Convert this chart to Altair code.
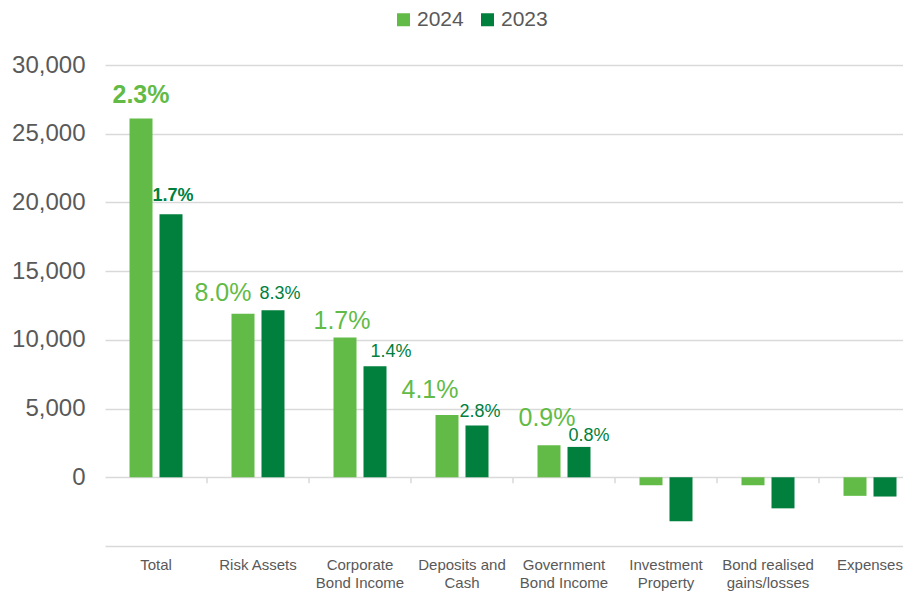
import altair as alt
import pandas as pd

categories = ["Total", "Risk Assets", "Corporate\nBond Income", "Deposits and\nCash",
              "Government\nBond Income", "Investment\nProperty", "Bond realised\ngains/losses", "Expenses"]
series = ["2024", "2023"]
values_2024 = [26100, 11900, 10170, 4530, 2330, -580, -580, -1350]
values_2023 = [19140, 12150, 8080, 3760, 2210, -3200, -2260, -1400]
labels_2024 = ["2.3%", "8.0%", "1.7%", "4.1%", "0.9%", "", "", ""]
labels_2023 = ["1.7%", "8.3%", "1.4%", "2.8%", "0.8%", "", "", ""]
y_ticks = [-5000, 0, 5000, 10000, 15000, 20000, 25000, 30000]

LIGHT = "#62BB46"
DARK = "#007F3D"
GREY = "#595959"
GRID = "#d9d9d9"
FONT = "Liberation Sans"

# label styling: (dx, dy, size, weight) per category, per series
style_2024 = {0: (0, -16, 25, "bold"), 1: (-20, -13, 25, "normal"), 2: (-3, -9, 25, "normal"),
              3: (-17, -17, 25, "normal"), 4: (-2, -19, 25, "normal")}
style_2023 = {0: (2, -13, 18, "bold"), 1: (7, -11, 18, "normal"), 2: (16, -9, 18, "normal"),
              3: (3, -9, 18, "normal"), 4: (10, -6, 18, "normal")}

rows = []
for c, v, l in zip(categories, values_2024, labels_2024):
    rows.append({"category": c, "series": "2024", "value": v, "label": l})
for c, v, l in zip(categories, values_2023, labels_2023):
    rows.append({"category": c, "series": "2023", "value": v, "label": l})
df = pd.DataFrame(rows)
df_ticks = pd.DataFrame({"category": categories[1:]})

x_enc = alt.X(
    "category:N", sort=categories,
    scale=alt.Scale(range=[0, 816], paddingInner=0, paddingOuter=0),
    axis=alt.Axis(title=None, labelAngle=0, domain=False, ticks=False, grid=False,
                  labelExpr="split(datum.label, '\\n')", labelFontSize=15, labelColor=GREY,
                  labelFont=FONT, labelPadding=11, labelLineHeight=18, labelOverlap=False),
)
xoff_enc = alt.XOffset("series:N", sort=series,
                       scale=alt.Scale(domain=series, paddingInner=0.2333, paddingOuter=0.8167))
y_enc = alt.Y(
    "value:Q",
    scale=alt.Scale(domain=[-5000, 30000], nice=False, zero=False),
    axis=alt.Axis(title=None, values=y_ticks, domain=False, ticks=False, gridColor=GRID,
                  gridWidth=1.5, labelFontSize=24, labelColor=GREY, labelFont=FONT, labelPadding=20,
                  labelExpr="datum.value < 0 ? '' : format(datum.value, ',')"),
)

bars = alt.Chart(df).mark_bar().encode(
    x=x_enc,
    xOffset=xoff_enc,
    y=y_enc,
    color=alt.Color(
        "series:N", sort=series,
        scale=alt.Scale(domain=series, range=[LIGHT, DARK]),
        legend=alt.Legend(title=None, orient="none", legendX=288, legendY=-56,
                          direction="horizontal", symbolType="square", symbolSize=169,
                          symbolStrokeWidth=0, labelFontSize=21, labelColor=GREY, labelFont=FONT,
                          columnPadding=13, labelOffset=3),
    ),
)

zero_ticks = alt.Chart(df_ticks).mark_rule(color=GRID, strokeWidth=1.5, y2Offset=6).encode(
    x=alt.X("category:N", sort=categories, bandPosition=0),
    y=alt.datum(0),
    y2=alt.datum(0),
)

layers = [bars, zero_ticks]
for ser, styles, color in (("2024", style_2024, LIGHT), ("2023", style_2023, DARK)):
    for idx, (dx, dy, size, weight) in styles.items():
        cat = categories[idx].replace("\n", "\\n")
        layers.append(
            alt.Chart(df).transform_filter(
                f"datum.series == '{ser}' && datum.category == '{cat}'"
            ).mark_text(
                color=color, fontSize=size, fontWeight=weight, font=FONT, dx=dx, dy=dy,
                baseline="alphabetic", align="center",
            ).encode(x=alt.X("category:N", sort=categories),
                     xOffset=alt.XOffset("series:N", sort=series),
                     y="value:Q", text="label:N")
        )

chart = alt.layer(*layers).properties(
    width=798, height=481,
    autosize="none",
    padding={"left": 97, "top": 57, "right": 0, "bottom": 48},
).configure(background="white").configure_view(stroke=None)

chart.save("out.html", embed_options={"renderer": "svg", "actions": False})
